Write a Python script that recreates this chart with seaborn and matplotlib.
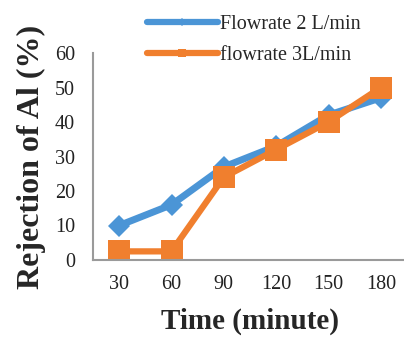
import matplotlib
matplotlib.use("Agg")
import matplotlib.pyplot as plt
from matplotlib.lines import Line2D
import seaborn as sns
import pandas as pd

# Sampling times (minutes) and Al rejection (%) for each flow rate
time_min = [30, 60, 90, 120, 150, 180]
rejection_2lpm = [10, 16, 27, 33, 42, 47]
rejection_3lpm = [2.5, 2.5, 24, 32, 40, 50]
series_names = ["Flowrate 2 L/min", "flowrate 3L/min"]
y_ticks = [0, 10, 20, 30, 40, 50, 60]

blue = "#4B95D6"
orange = "#F07F2E"

df = pd.concat([
    pd.DataFrame({"time": time_min, "rejection": rejection_2lpm, "series": series_names[0]}),
    pd.DataFrame({"time": time_min, "rejection": rejection_3lpm, "series": series_names[1]}),
])

sns.set_theme(style="white")
plt.rcParams["font.family"] = ["Liberation Serif", "DejaVu Serif"]

fig = plt.figure(figsize=(4.04, 3.39), dpi=100)
ax = fig.add_axes([93 / 404, 79 / 339, 314 / 404, 207 / 339])

sns.lineplot(data=df[df.series == series_names[0]], x="time", y="rejection",
             color=blue, lw=5, marker="D", markersize=11, markeredgewidth=0,
             ax=ax, legend=False)
sns.lineplot(data=df[df.series == series_names[1]], x="time", y="rejection",
             color=orange, lw=4.5, marker="s", markersize=16, markeredgewidth=0,
             ax=ax, legend=False)

ax.set_xlim(15, 195)
ax.set_ylim(0, 60)
ax.set_xticks(time_min)
ax.set_yticks(y_ticks)
ax.tick_params(axis="both", length=0, labelsize=14.5, colors="#222222")
ax.tick_params(axis="y", pad=13)
ax.tick_params(axis="x", pad=11)

for side in ("top", "right"):
    ax.spines[side].set_visible(False)
for side in ("left", "bottom"):
    ax.spines[side].set_color("#9A9A9A")
    ax.spines[side].set_linewidth(1.5)

ax.set_xlabel("Time (minute)", fontsize=21, fontweight="bold", labelpad=10)
ax.set_ylabel("Rejection of Al (%)", fontsize=23, fontweight="bold", labelpad=6)

handles = [
    Line2D([], [], color=blue, lw=4.5, marker="D", markersize=4, markeredgewidth=0),
    Line2D([], [], color=orange, lw=4.5, marker="s", markersize=6, markeredgewidth=0),
]
fig.legend(handles, series_names, loc="upper left", bbox_to_anchor=(136 / 404, 0.99),
           frameon=False, fontsize=14.5, handlelength=3.5, handletextpad=0.1,
           labelspacing=0.6, borderaxespad=0.15)

fig.savefig("out.png", dpi=100)
